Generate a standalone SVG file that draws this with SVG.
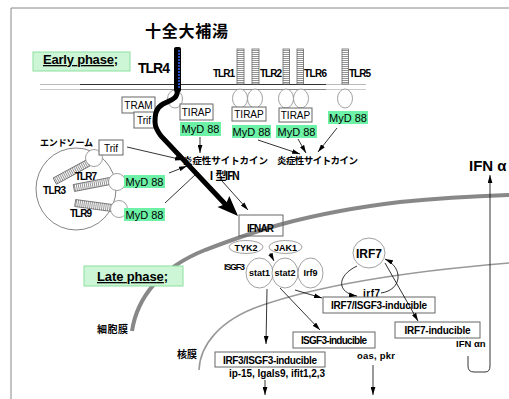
<svg xmlns="http://www.w3.org/2000/svg" width="509" height="399" viewBox="0 0 509 399">
  <style>
    .t { font-family: "Liberation Sans", "Noto Sans CJK JP", sans-serif; font-weight: bold; fill: #000; }
    .r { font-family: "Liberation Sans", "Noto Sans CJK JP", sans-serif; font-weight: normal; fill: #000; }
    .jp { font-family: "Noto Sans CJK JP", sans-serif; font-weight: bold; fill: #000; }
    .box { fill: #fff; stroke: #666; stroke-width: 1; }
    .green { fill: #6cf1a6; }
    .phase { fill: #ccf6d6; stroke: #8ddf9f; stroke-width: 1; }
    .oval { fill: #fff; stroke: #888; stroke-width: 0.8; }
    .bar { fill: url(#hatchH); stroke: #666; stroke-width: 0.8; }
    .tbar { fill: url(#hatchV); stroke: #666; stroke-width: 0.8; }
    .ln { fill: none; stroke: #000; stroke-width: 0.8; }
    .arr { fill: none; stroke: #000; stroke-width: 0.8; marker-end: url(#ah); }
    .mid { text-anchor: middle; }
  </style>
  <defs>
    <marker id="ah" viewBox="0 0 10 6" refX="10" refY="3" markerWidth="8" markerHeight="5" markerUnits="userSpaceOnUse" orient="auto">
      <path d="M0,0 L10,3 L0,6 z" fill="#000"/>
    </marker>
    <pattern id="hatchH" width="4" height="2" patternUnits="userSpaceOnUse">
      <rect width="4" height="2" fill="#fff"/>
      <line x1="0" y1="0.5" x2="4" y2="0.5" stroke="#777" stroke-width="0.8"/>
    </pattern>
    <pattern id="hatchV" width="2" height="4" patternUnits="userSpaceOnUse">
      <rect width="2" height="4" fill="#fff"/>
      <line x1="0.5" y1="0" x2="0.5" y2="4" stroke="#777" stroke-width="0.8"/>
    </pattern>
  </defs>

  <rect width="509" height="399" fill="#fff"/>

  <!-- frame -->
  <path d="M11,399 V8 H509" fill="none" stroke="#888" stroke-width="1"/>

  <!-- plasma membrane (top bilayer) -->
  <g id="bilayer">
    <line x1="40" y1="84.5" x2="366" y2="84.5" stroke="#bbb" stroke-width="1"/>
    <line x1="80" y1="84.5" x2="326" y2="84.5" stroke="#333" stroke-width="1"/>
    <line x1="40" y1="89.5" x2="366" y2="89.5" stroke="#ccc" stroke-width="1"/>
    <line x1="80" y1="89.5" x2="326" y2="89.5" stroke="#888" stroke-width="1"/>
  </g>

  <!-- cell membrane and nuclear membrane -->
  <g id="membranes">
    <path d="M132,331 C137,298 160,268 205,250 C250,233 300,214 400,202 C450,197 480,196 509,195" fill="none" stroke="#888" stroke-width="4"/>
    <path d="M199,370 C200,345 220,320 260,306 C320,285 400,272 509,263" fill="none" stroke="#999" stroke-width="1.6"/>
    <text class="jp" x="97" y="333" font-size="10" textLength="31">細胞膜</text>
    <text class="jp" x="177" y="358" font-size="10" textLength="20">核膜</text>
  </g>

  <text class="jp" x="145" y="37" font-size="16" textLength="83">十全大補湯</text>

  <g id="early-phase">
    <rect class="phase" x="33" y="52" width="97" height="19"/>
    <text class="t" x="43" y="64" font-size="13" textLength="75" text-decoration="underline">Early phase;</text>
  </g>

  <g id="late-phase">
    <rect class="phase" x="84" y="266" width="99" height="20"/>
    <text class="t" x="97" y="281" font-size="13" textLength="71" text-decoration="underline">Late phase;</text>
  </g>

  <!-- TLR4 complex -->
  <g id="tlr4">
    <text class="t" x="138" y="73" font-size="14" textLength="32">TLR4</text>
    <ellipse class="oval" cx="175" cy="99" rx="7.5" ry="9"/>
    <rect class="box" x="122" y="97" width="33" height="16"/>
    <text class="r mid" x="138.5" y="108.5" font-size="10">TRAM</text>
    <rect class="box" x="134" y="112" width="20" height="16"/>
    <text class="r mid" x="144" y="124" font-size="10">Trif</text>
    <rect class="box" x="180" y="104" width="33" height="16"/>
    <text class="r mid" x="196.5" y="116" font-size="10">TIRAP</text>
    <rect class="green" x="180" y="122" width="41" height="14"/>
    <text class="r mid" x="200.5" y="133" font-size="11">MyD 88</text>
  </g>

  <g id="tlr1-2">
    <rect class="bar" x="237" y="49" width="7" height="35"/>
    <rect class="bar" x="252" y="49" width="7" height="35"/>
    <text class="t" x="213" y="77" font-size="10" textLength="22">TLR1</text>
    <text class="t" x="260" y="77" font-size="10" textLength="22">TLR2</text>
    <ellipse class="oval" cx="240" cy="98.5" rx="7.5" ry="9.5"/>
    <ellipse class="oval" cx="255" cy="98.5" rx="7.5" ry="9.5"/>
    <rect class="box" x="232" y="107" width="34" height="14"/>
    <text class="r mid" x="249" y="118" font-size="10">TIRAP</text>
    <rect class="green" x="232" y="125" width="39" height="13"/>
    <text class="r mid" x="251.5" y="135.5" font-size="11">MyD 88</text>
  </g>

  <g id="tlr2-6">
    <rect class="bar" x="283" y="49" width="6.5" height="35"/>
    <rect class="bar" x="297" y="49" width="6.5" height="35"/>
    <text class="t" x="304" y="77" font-size="10" textLength="23">TLR6</text>
    <ellipse class="oval" cx="286" cy="98.5" rx="7.5" ry="9.5"/>
    <ellipse class="oval" cx="301" cy="98.5" rx="7.5" ry="9.5"/>
    <rect class="box" x="279" y="108" width="33" height="14"/>
    <text class="r mid" x="295.5" y="119" font-size="10">TIRAP</text>
    <rect class="green" x="276" y="125" width="41" height="13"/>
    <text class="r mid" x="296.5" y="135.5" font-size="11">MyD 88</text>
  </g>

  <g id="tlr5">
    <rect class="bar" x="342" y="49" width="6.5" height="35"/>
    <text class="t" x="349" y="77" font-size="10" textLength="22">TLR5</text>
    <ellipse class="oval" cx="345" cy="98.5" rx="7.5" ry="9.5"/>
    <rect class="green" x="328" y="111" width="40" height="13"/>
    <text class="r mid" x="348" y="121.5" font-size="11">MyD 88</text>
  </g>

  <!-- endosome -->
  <g id="endosome">
    <ellipse cx="76" cy="189" rx="40" ry="41" fill="#fff" stroke="#666" stroke-width="0.8"/>
    <text class="jp" x="40" y="146" font-size="9" textLength="53">エンドソーム</text>
    <rect class="tbar" x="-19" y="-3.5" width="38" height="7" transform="translate(71.5,172) rotate(-28.6)"/>
    <rect class="tbar" x="-18.5" y="-3.5" width="37" height="7" transform="translate(92,184.5) rotate(-11)"/>
    <rect class="tbar" x="-18.5" y="-3.5" width="37" height="7" transform="translate(93.5,205.5) rotate(7.7)"/>
    <circle class="oval" cx="94" cy="158" r="8.5" stroke="#666"/>
    <circle class="oval" cx="117" cy="182" r="8.5" stroke="#666"/>
    <circle class="oval" cx="119" cy="209" r="8.5" stroke="#666"/>
    <text class="t" x="43" y="194" font-size="10" textLength="23">TLR3</text>
    <text class="t" x="75" y="180" font-size="10" textLength="22">TLR7</text>
    <text class="t" x="70" y="217" font-size="10" textLength="22">TLR9</text>
    <rect class="box" x="99" y="140" width="24" height="15"/>
    <text class="r mid" x="111" y="151.5" font-size="10">Trif</text>
    <rect class="green" x="124" y="175" width="41" height="13"/>
    <text class="r mid" x="144.5" y="185.5" font-size="11">MyD 88</text>
    <rect class="green" x="124" y="208" width="41" height="13"/>
    <text class="r mid" x="144.5" y="218.5" font-size="11">MyD 88</text>
  </g>

  <g id="cytokines">
    <text class="jp" x="183" y="164" font-size="9.5" textLength="85">炎症性サイトカイン</text>
    <text class="jp" x="277" y="164" font-size="9.5" textLength="81">炎症性サイトカイン</text>
    <text class="jp" x="206" y="180" font-size="11" textLength="34">Ⅰ型IFN</text>
  </g>

  <g id="ifnar">
    <rect x="239" y="215" width="44" height="21" fill="none" stroke="#666" stroke-width="1"/>
    <text class="t mid" x="260.5" y="232" font-size="10" textLength="27">IFNAR</text>
    <ellipse class="oval" cx="246" cy="247" rx="17" ry="6.5" stroke="#555"/>
    <text class="t mid" x="246" y="250.5" font-size="9">TYK2</text>
    <ellipse class="oval" cx="285.5" cy="247" rx="16.5" ry="6.5" stroke="#555"/>
    <text class="t mid" x="285.5" y="250.5" font-size="9">JAK1</text>
  </g>

  <g id="isgf3">
    <text class="t" x="224" y="270" font-size="9" textLength="21">ISGF3</text>
    <ellipse class="oval" cx="259.5" cy="273" rx="13.5" ry="15" stroke="#555"/>
    <ellipse class="oval" cx="285" cy="273" rx="13" ry="15" stroke="#555"/>
    <ellipse class="oval" cx="310.5" cy="273" rx="12.5" ry="15" stroke="#555"/>
    <text class="t mid" x="259.5" y="276" font-size="9">stat1</text>
    <text class="t mid" x="285" y="276" font-size="9">stat2</text>
    <text class="t mid" x="310.5" y="276" font-size="9">Irf9</text>
  </g>

  <g id="irf7">
    <ellipse class="oval" cx="369" cy="253" rx="16" ry="15" stroke="#555"/>
    <text class="t mid" x="369" y="257.5" font-size="12">IRF7</text>
    <text class="t" x="363" y="297" font-size="10" textLength="17">irf7</text>
  </g>

  <g id="irf7-isgf3-inducible">
    <rect class="box" x="323" y="297" width="112" height="16"/>
    <text class="t mid" x="379" y="309" font-size="10" textLength="96">IRF7/ISGF3-inducible</text>
  </g>

  <g id="irf7-inducible">
    <rect class="box" x="395" y="322" width="85" height="16"/>
    <text class="t mid" x="437.5" y="334" font-size="10" textLength="66">IRF7-inducible</text>
    <text class="t" x="456" y="347" font-size="9.5">IFN αn</text>
  </g>

  <g id="isgf3-inducible">
    <rect class="box" x="293" y="332" width="82" height="16"/>
    <text class="t mid" x="334" y="344" font-size="10" textLength="66">ISGF3-inducible</text>
    <text class="t" x="357" y="359" font-size="9.5" textLength="38">oas, pkr</text>
  </g>

  <g id="irf3-isgf3-inducible">
    <rect class="box" x="215" y="352" width="110" height="15"/>
    <text class="t mid" x="270" y="363.5" font-size="10" textLength="94">IRF3/ISGF3-inducible</text>
    <text class="t" x="229" y="377" font-size="10" textLength="96">ip-15, lgals9, ifit1,2,3</text>
  </g>

  <g id="ifna">
    <text class="t" x="469" y="171" font-size="15">IFN α</text>
  </g>

  <!-- connectors -->
  <g id="connectors">
    <line class="arr" x1="127" y1="147" x2="183" y2="160"/>
    <line class="arr" x1="169" y1="173" x2="187" y2="166"/>
    <line class="ln" x1="165" y1="203" x2="196" y2="174"/>
    <line class="arr" x1="200" y1="137" x2="200" y2="153"/>
    <line class="arr" x1="258" y1="140" x2="300" y2="154"/>
    <line class="arr" x1="298" y1="139" x2="306" y2="153"/>
    <line class="arr" x1="337" y1="128" x2="318" y2="152"/>
    <line class="arr" x1="222" y1="181" x2="248" y2="210"/>
    <line class="arr" x1="270" y1="253" x2="274" y2="261"/>
    <line class="arr" x1="267" y1="289" x2="266" y2="344"/>
    <line class="arr" x1="280" y1="288" x2="320" y2="330"/>
    <line class="arr" x1="295" y1="290" x2="322" y2="298"/>
    <path class="arr" d="M357,266 C336,276 337,293 357,296"/>
    <path class="arr" d="M381,293 C402,290 404,268 385,259"/>
    <line class="arr" x1="385" y1="263" x2="418" y2="321"/>
    <line class="arr" x1="265" y1="380" x2="265" y2="395"/>
    <line class="arr" x1="373" y1="365" x2="373" y2="395"/>
    <path class="arr" d="M468,356 V366 Q468,372 474,372 H485 Q490,372 490,366 V175"/>

    <!-- thick pathway from TLR4 to IFNAR -->
    <rect x="174" y="47" width="7" height="45" rx="2" fill="#000"/>
    <line x1="179" y1="50" x2="179" y2="90" stroke="#2b4fc4" stroke-width="2" stroke-dasharray="2 1"/>
    <path d="M177.5,90 C177.5,100 170,100 163,104 C156,108 155,114 155,122 C155,128 158,132 161,136 L226,205" fill="none" stroke="#000" stroke-width="5" stroke-linecap="round"/>
    <path d="M238,216 L217.5,207 L226,204 L229.3,196 Z" fill="#000"/>
  </g>
</svg>
